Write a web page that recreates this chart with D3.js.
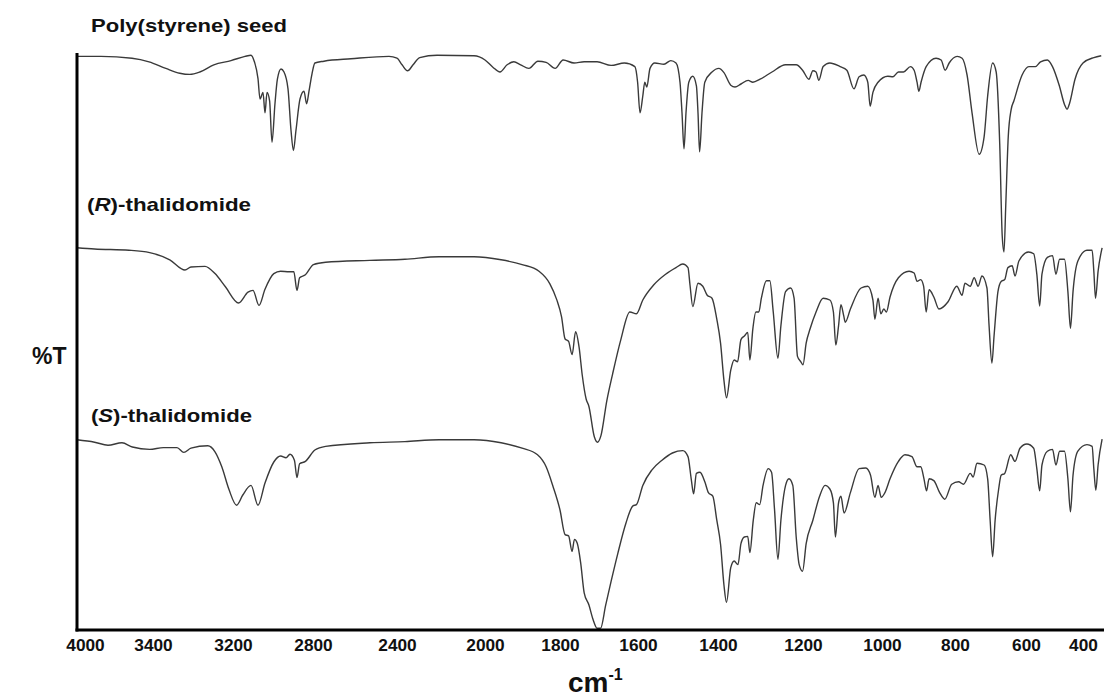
<!DOCTYPE html>
<html><head><meta charset="utf-8">
<script src="https://cdn.jsdelivr.net/npm/d3@7/dist/d3.min.js"></script>
<style>body{margin:0;background:#fff}svg{display:block}</style>
</head><body><svg id="chart" width="1117" height="699"></svg>
<script>
// ---------------- DATA ----------------
const tickLabels = [4000,3400,3200,2800,2400,2000,1800,1600,1400,1200,1000,800,600,400];
const seriesNames = ["Poly(styrene) seed", "(R)-thalidomide", "(S)-thalidomide"];

// Poly(styrene) seed: wavenumber (cm-1) and %T (stacked, arbitrary offset)
const psWn = [4071,3859,3585,3435,3368,3333,3308,3283,3248,3205,3140,3110,3093,3075,3065,3050,3040,3030,3017,3005,2990,2978,2960,2945,2925,2910,2898,2885,2865,2845,2832,2820,2805,2791,2748,2619,2438,2400,2377,2352,2327,2297,2218,2050,2000,1979,1960,1941,1923,1905,1883,1859,1837,1813,1792,1764,1738,1705,1669,1635,1608,1601,1595,1588,1583,1578,1570,1558,1535,1518,1505,1495,1490,1485,1480,1473,1463,1454,1450,1446,1440,1433,1415,1398,1386,1370,1360,1346,1329,1318,1301,1273,1241,1216,1201,1185,1175,1167,1160,1149,1132,1106,1089,1071,1058,1046,1036,1030,1023,1010,984,970,955,941,922,912,904,899,893,879,852,838,827,816,794,780,766,752,732,718,708,694,684,674,667,662,657,650,642,634,611,590,567,549,525,507,483,465,456,447,428,400,362,336];
const psT = [95.6,95.6,95.3,94.7,93.6,92.8,92.6,93.0,94.2,94.9,95.6,95.8,94.7,91.9,88.5,89.6,86.2,89.6,88.2,81.3,87.8,91.8,93.5,93.0,90.2,83.3,79.9,83.3,88.5,89.8,87.7,89.8,92.7,94.5,94.8,95.2,95.6,95.3,94.2,93.2,94.2,95.4,95.8,95.7,95.0,93.8,93.0,94.2,94.7,94.2,93.6,94.8,94.6,93.6,95.0,94.5,94.7,94.7,94.1,94.5,93.9,91.3,86.2,89.0,91.3,90.5,93.6,94.5,94.3,94.9,94.5,91.3,86.2,80.2,86.2,91.3,92.3,90.7,86.2,79.7,86.2,91.3,93.0,93.6,92.9,90.8,90.5,91.0,91.6,91.3,91.8,93.0,94.2,94.2,93.3,91.8,93.2,93.0,91.6,93.9,94.5,93.9,93.3,90.2,92.2,92.5,91.3,87.3,89.6,91.3,92.3,92.2,93.0,93.0,93.9,93.3,91.3,89.8,91.3,93.9,95.3,95.0,93.3,94.5,95.6,95.3,92.5,86.2,79.3,82.2,89.0,94.5,93.0,81.0,65.7,63.0,70.8,82.2,86.7,88.2,92.5,93.9,93.9,94.7,95.0,93.9,90.7,87.6,86.8,87.8,91.8,94.5,95.4,95.7];

// (R)-thalidomide
const rWn = [4071,3916,3612,3429,3358,3320,3305,3270,3245,3219,3172,3125,3100,3070,3040,2996,2962,2920,2896,2880,2867,2838,2798,2740,2529,2364,2209,2050,1957,1901,1856,1827,1809,1796,1787,1778,1769,1760,1751,1743,1733,1726,1712,1704,1695,1680,1665,1644,1621,1604,1588,1561,1531,1505,1488,1475,1470,1463,1450,1438,1427,1415,1403,1394,1386,1380,1370,1362,1354,1346,1338,1330,1325,1318,1311,1304,1298,1286,1278,1270,1259,1252,1241,1229,1221,1213,1205,1200,1192,1182,1167,1149,1132,1123,1117,1110,1104,1097,1093,1080,1053,1036,1023,1018,1010,1003,995,988,978,955,926,912,904,894,886,879,871,858,844,819,795,780,772,757,746,735,724,710,704,696,690,679,670,660,651,639,631,620,591,573,562,552,544,525,507,495,482,465,453,444,435,418,386,368,362,356,347,333];
const rT = [63.7,63.5,63.3,62.9,61.7,60.0,60.5,60.6,59.4,57.2,54.5,56.3,56.6,54.1,56.8,59.4,59.8,59.7,59.7,56.6,58.7,59.2,60.9,61.3,61.6,61.8,62.2,62.2,61.7,60.9,59.8,57.7,55.1,52.2,48.5,48.1,45.9,49.7,47.1,42.5,38.5,37.3,32.2,31.3,32.4,38.2,42.7,48.4,53.0,52.7,55.0,57.5,59.3,60.4,61.0,60.4,57.5,53.9,57.8,57.3,55.8,55.3,51.8,47.8,41.6,38.7,43.3,45.0,44.7,48.4,49.0,49.6,45.0,50.2,53.0,53.0,55.3,58.2,58.2,53.0,45.3,50.7,56.4,57.0,55.3,45.6,44.7,44.2,47.8,50.2,53.0,55.3,55.0,53.0,47.5,50.7,54.2,52.4,51.3,53.5,57.0,57.3,55.0,51.8,55.3,52.7,53.5,53.0,55.5,58.7,59.8,59.5,58.1,58.4,57.3,53.0,56.7,55.5,53.5,54.7,57.3,55.8,57.8,57.3,58.7,57.3,59.0,57.0,50.7,44.5,49.0,56.4,58.1,58.4,60.4,60.7,59.0,61.5,63.0,62.7,59.3,54.0,59.3,62.1,62.4,59.3,61.8,61.8,56.4,50.3,56.4,61.5,63.3,63.3,59.8,55.3,59.8,63.7];

// (S)-thalidomide
const sWn = [4071,3916,3797,3674,3582,3429,3374,3340,3323,3305,3263,3245,3228,3210,3182,3151,3110,3075,3040,2996,2962,2935,2915,2893,2880,2867,2838,2791,2740,2529,2364,2209,2050,1957,1901,1860,1837,1819,1800,1787,1778,1769,1763,1756,1747,1738,1726,1715,1705,1696,1683,1669,1652,1631,1613,1604,1588,1565,1540,1514,1488,1475,1467,1461,1454,1445,1433,1424,1413,1403,1394,1386,1380,1370,1362,1353,1346,1338,1330,1325,1317,1310,1302,1294,1282,1274,1267,1259,1252,1241,1233,1224,1216,1209,1201,1192,1175,1158,1144,1132,1123,1118,1110,1104,1096,1080,1058,1041,1029,1018,1010,1002,992,978,955,937,918,904,894,885,878,871,858,842,828,809,790,776,757,749,738,718,708,701,694,687,677,670,660,643,631,617,597,573,562,552,544,525,507,495,482,465,453,444,435,418,386,368,362,355,347,333];
const sT = [31.7,31.3,30.8,31.2,30.5,30.1,30.4,30.4,29.6,30.3,30.7,29.7,27.2,23.4,20.8,22.5,24.1,20.8,24.5,28.0,29.0,28.7,29.3,28.3,25.4,27.7,28.1,30.0,30.6,31.2,31.4,31.7,31.7,31.2,30.3,29.2,27.2,24.0,20.0,15.9,15.7,13.1,15.1,14.5,11.2,6.2,4.2,1.7,0.3,0.3,4.1,8.1,12.7,17.8,20.7,20.9,24.1,26.7,28.3,29.5,29.9,28.9,25.2,22.7,26.1,26.3,24.7,22.9,22.3,18.3,14.3,7.5,4.6,10.4,11.5,10.9,14.4,15.5,15.6,12.9,18.3,21.2,20.9,24.1,26.9,26.3,20.1,11.8,18.3,24.1,25.2,24.1,15.5,10.9,9.8,14.4,18.3,22.3,24.1,23.5,21.2,15.5,21.2,22.3,19.5,22.9,26.9,27.0,25.8,22.1,24.1,22.1,22.9,25.2,28.1,29.2,28.9,27.2,27.2,25.2,23.2,25.2,24.9,22.9,21.8,24.3,24.7,24.3,26.1,25.5,27.8,27.5,25.2,18.3,12.2,18.3,23.5,25.8,26.1,29.2,28.1,30.3,31.0,30.3,26.9,23.2,27.5,29.8,30.1,27.5,29.8,29.8,25.2,19.7,25.8,29.8,30.9,30.6,26.9,23.3,27.5,31.8];

// ---------------- LAYOUT ----------------
// the printed axis is hand-labelled and not uniform, so the wavenumber scale is piecewise
const xAnchors = [85,153,233,313,397,485,560,638,718,803,882,955,1026,1083];
const plotLeft = 77, plotRight = 1104, plotBottom = 630, plotTop = 53;

const svg = d3.select("#chart");
const x = d3.scaleLinear().domain(tickLabels).range(xAnchors);
const y = d3.scaleLinear().domain([0, 100]).range([plotBottom, plotTop - 23]);

const font = "'Liberation Sans', Arial, sans-serif";

const series = [
  {name: seriesNames[0], wn: psWn, t: psT},
  {name: seriesNames[1], wn: rWn, t: rT},
  {name: seriesNames[2], wn: sWn, t: sT}
];

const line = d3.line()
  .x(d => x(d[0]))
  .y(d => y(d[1]))
  .curve(d3.curveMonotoneX);

svg.append("g").selectAll("path").data(series).join("path")
  .attr("d", s => line(s.wn.map((w, i) => [w, s.t[i]])))
  .attr("fill", "none")
  .attr("stroke", "#3a3a3a")
  .attr("stroke-width", 1.4)
  .attr("stroke-linejoin", "round");

// axes (frame lines)
svg.append("line").attr("x1", plotLeft).attr("x2", plotLeft)
  .attr("y1", plotTop).attr("y2", plotBottom + 1.5)
  .attr("stroke", "#000").attr("stroke-width", 3);
svg.append("line").attr("x1", plotLeft - 1.5).attr("x2", plotRight)
  .attr("y1", plotBottom).attr("y2", plotBottom)
  .attr("stroke", "#000").attr("stroke-width", 3);

// x axis tick labels via d3 axis (no tick marks)
const xAxis = d3.axisBottom(x).tickValues(tickLabels).tickFormat(d3.format("d")).tickSize(0).tickPadding(10);
const gx = svg.append("g").attr("transform", `translate(0,${plotBottom})`).call(xAxis);
gx.select(".domain").remove();
gx.selectAll("text").attr("font-family", font).attr("font-weight", "bold")
  .attr("font-size", 16).attr("fill", "#111")
  .attr("transform", "scale(1.08,1)");

// series labels (slightly wide lettering as in the source figure)
const lab = svg.append("g").attr("font-family", font).attr("font-weight", "bold").attr("font-size", 19).attr("fill", "#111");
lab.append("text").attr("x", 91).attr("y", 32)
  .attr("textLength", 196).attr("lengthAdjust", "spacingAndGlyphs").text(seriesNames[0]);
const tr = lab.append("text").attr("x", 87).attr("y", 211)
  .attr("textLength", 164).attr("lengthAdjust", "spacingAndGlyphs");
tr.append("tspan").text("(");
tr.append("tspan").attr("font-style", "italic").text("R");
tr.append("tspan").text(")-thalidomide");
const ts = lab.append("text").attr("x", 91).attr("y", 422)
  .attr("textLength", 161).attr("lengthAdjust", "spacingAndGlyphs");
ts.append("tspan").text("(");
ts.append("tspan").attr("font-style", "italic").text("S");
ts.append("tspan").text(")-thalidomide");

// axis titles
svg.append("text").attr("x", 32).attr("y", 364).attr("font-family", font)
  .attr("font-weight", "bold").attr("font-size", 23).attr("fill", "#111").text("%T");
const cm = svg.append("text").attr("x", 568).attr("y", 692).attr("font-family", font)
  .attr("font-weight", "bold").attr("font-size", 28).attr("fill", "#111");
cm.append("tspan").text("cm");
cm.append("tspan").attr("font-size", 16).attr("dy", -12).text("-1");
</script>
</body></html>
